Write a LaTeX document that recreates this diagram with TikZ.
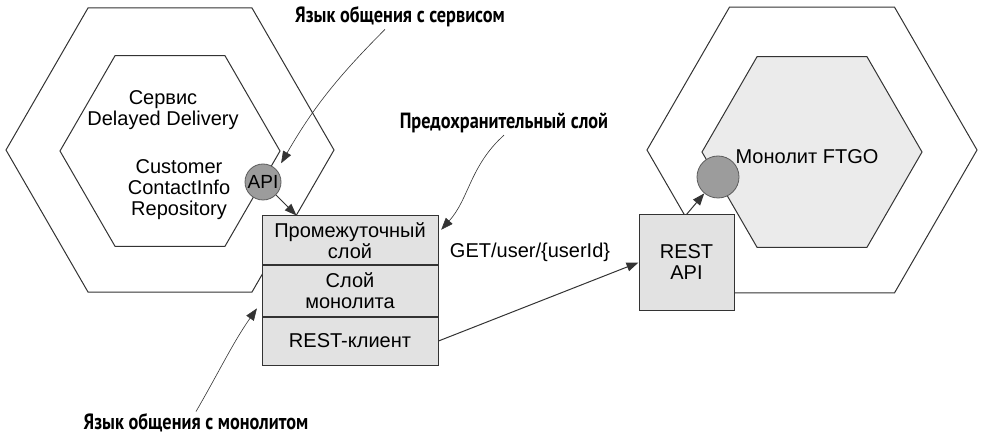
\documentclass[tikz,border=0pt]{standalone}
\usepackage{fontspec}
\setmainfont{Liberation Sans}
\newfontfamily\calloutfont{PT Sans}[FakeStretch=0.83]
\usetikzlibrary{arrows.meta, positioning, shapes.geometric, calc}
\definecolor{inkgray}{HTML}{333333}
\definecolor{layerfill}{HTML}{E2E2E2}
\definecolor{corefill}{HTML}{EBEBEB}
\definecolor{portfill}{HTML}{9C9C9C}
\tikzset{
    font=\fontsize{20}{21}\selectfont,
    hex_outer/.style={
        regular polygon,
        regular polygon sides=6,
        draw=inkgray,
        fill=white,
        line width=1pt,
        inner sep=0pt
    },
    layer_box/.style={
        rectangle,
        draw=inkgray,
        fill=layerfill,
        line width=1pt,
        minimum width=176pt,
        inner sep=2pt,
        align=center
    },
    api_port/.style={
        circle,
        draw=inkgray!80,
        fill=portfill,
        line width=0.8pt,
        inner sep=0pt
    },
    callout_text/.style={
        font=\calloutfont\bfseries\fontsize{22}{24}\selectfont,
        inner sep=2pt
    },
    callout_arrow/.style={
        -{Triangle[length=12pt, width=9pt]},
        draw=inkgray,
        line width=0.6pt
    },
    conn_arrow/.style={
        -{Triangle[length=12pt, width=9pt]},
        draw=inkgray,
        line width=1pt
    }
}

\begin{document}
\begin{tikzpicture}[x=1pt, y=-1pt]
\useasboundingbox (0,0) rectangle (981,435);

% --- Hexagons ---
\node[hex_outer, minimum size=328pt] (svcHex) at (170,150) {};
\node[hex_outer, minimum size=220pt] (svcCore) at (170,151) {};
\node[hex_outer, minimum size=330pt] (ftgoHex) at (812,150) {};
\node[hex_outer, fill=corefill, minimum size=220pt] (ftgoCore) at (812,152) {};

% --- Texts inside hexagons ---
\node[align=center] (svcName) at (163,110) {Сервис\\Delayed Delivery};
\node[align=center] (repoName) at (179,190) {Customer\\ContactInfo\\Repository};
\node (ftgoName) at (807,157) {Монолит FTGO};

% --- Ports ---
\node[api_port, minimum size=36pt, font=\fontsize{19}{20}\selectfont] (svcApi) at (263,182) {API};
\node[api_port, minimum size=42pt] (ftgoApi) at (718,177) {};

% --- Anticorruption layer stack ---
\node[layer_box, minimum height=49pt] (midLayer) at (350,240.5) {Промежуточный\\слой};
\node[layer_box, below=0pt of midLayer, minimum height=50pt] (monoLayer) {Слой\\монолита};
\node[layer_box, below=0pt of monoLayer, minimum height=48pt] (restClient) {REST-клиент};
\node[layer_box, minimum width=95pt, minimum height=95pt] (restApi) at (686.5,262.5) {REST\\API};
\node (getLabel) at (530,252) {GET/user/\{userId\}};

% --- Callouts ---
\node[callout_text] (svcLangLbl) at (400,17) {Язык общения с сервисом};
\node[callout_text] (guardLbl) at (504,123) {Предохранительный слой};
\node[callout_text] (monoLangLbl) at (196,423) {Язык общения с монолитом};
\coordinate (apiIn) at ($(midLayer.north west)+(35,0)$);

% --- Edges ---
\draw[conn_arrow] (svcApi) -- (apiIn);
\draw[conn_arrow] (restClient.east) -- (restApi.west);
\draw[conn_arrow] (restApi.north) -- (ftgoApi);
\draw[callout_arrow, shorten >=8pt] ([xshift=-15pt]svcLangLbl.south) to[out=225, in=60] (svcApi.40);
\draw[callout_arrow, shorten >=4pt] (guardLbl.south) to[out=222, in=48] (midLayer.5);
\draw[callout_arrow, shorten >=8pt] (monoLangLbl.north) to[out=60, in=235] (monoLayer.187);

\end{tikzpicture}
\end{document}
